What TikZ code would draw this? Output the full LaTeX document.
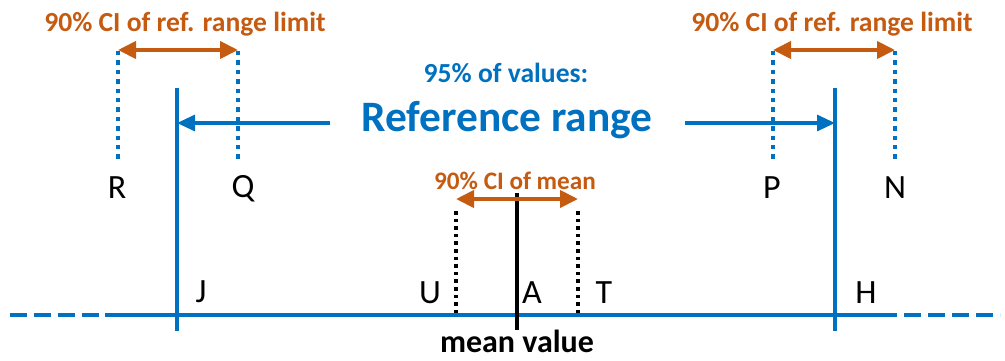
\documentclass[tikz,border=0pt]{standalone}
\usepackage{fontspec}
\setmainfont{Carlito}
\usetikzlibrary{arrows.meta}
\definecolor{refblue}{RGB}{0,112,192}
\definecolor{ciorange}{RGB}{197,90,17}
\tikzset{
  axisline/.style={refblue, line width=2pt},
  axisdash/.style={refblue, line width=2pt, dash pattern=on 8.5pt off 3.5pt},
  limitline/.style={refblue, line width=2pt},
  cidot/.style={refblue, line width=2.2pt, dash pattern=on 2.2pt off 2.5pt},
  meandot/.style={black, line width=1.8pt, dash pattern=on 1.8pt off 2pt},
  meanline/.style={black, line width=2pt},
  ciarrow/.style={ciorange, line width=2pt, {Triangle[length=9pt,width=8.5pt]}-{Triangle[length=9pt,width=8.5pt]}},
  refarrow/.style={refblue, line width=1.6pt, -{Triangle[length=9pt,width=8pt]}},
  cilabel/.style={text=ciorange, font=\bfseries\fontsize{13.8}{15}\selectfont, inner sep=0pt},
  meanci/.style={text=ciorange, font=\bfseries\fontsize{12.6}{14}\selectfont, inner sep=0pt},
  letter/.style={font=\fontsize{17}{19}\selectfont, inner sep=0pt},
}
\begin{document}
\begin{tikzpicture}[x=0.5pt,y=-0.5pt]
\useasboundingbox (0,0) rectangle (1005,360);
% axis
\coordinate (axL) at (10,315);
\coordinate (axLs) at (105,315);
\coordinate (axRs) at (880,315);
\coordinate (axR) at (1000,315);
\draw[axisdash] (axL) -- (axLs);
\draw[axisline] (axLs) -- (axRs);
\draw[axisdash] (axRs) -- (axR);
% reference limits
\coordinate (jtop) at (177,88);
\coordinate (jbot) at (177,331);
\coordinate (htop) at (835,88);
\coordinate (hbot) at (835,331);
\draw[limitline] (jtop) -- (jbot);
\draw[limitline] (htop) -- (hbot);
% CI dotted lines of limits
\coordinate (rtop) at (118,51); \coordinate (rbot) at (118,160);
\coordinate (qtop) at (238,51); \coordinate (qbot) at (238,160);
\coordinate (ptop) at (773,51); \coordinate (pbot) at (773,160);
\coordinate (ntop) at (895,51); \coordinate (nbot) at (895,160);
\draw[cidot] (rtop) -- (rbot);
\draw[cidot] (qtop) -- (qbot);
\draw[cidot] (ptop) -- (pbot);
\draw[cidot] (ntop) -- (nbot);
\coordinate (la1) at (118,50); \coordinate (la2) at (238,50);
\coordinate (ra1) at (773,50); \coordinate (ra2) at (895,50);
\draw[ciarrow] (la1) -- (la2);
\draw[ciarrow] (ra1) -- (ra2);
\node[cilabel] (cil) at (185,24) {90\% CI of ref. range limit};
\node[cilabel] (cir) at (832,24) {90\% CI of ref. range limit};
% reference range label and arrows
\node[text=refblue, font=\bfseries\fontsize{13.8}{15}\selectfont, inner sep=0pt] (pct) at (506,73) {95\% of values:};
\node[text=refblue, font=\bfseries\fontsize{21.7}{24}\selectfont, inner sep=0pt] (refr) at (507,120) {Reference range};
\coordinate (jarr) at (177,123);
\coordinate (harr) at (835,123);
\coordinate (refL) at (330,123);
\coordinate (refR) at (685,123);
\draw[refarrow] (refL) -- (jarr);
\draw[refarrow] (refR) -- (harr);
% letters
\node[letter] (R) at (117,188) {R};
\node[letter] (Q) at (243,189) {Q};
\node[letter] (P) at (772,188) {P};
\node[letter] (N) at (895,188) {N};
\node[letter] (J) at (201,292) {J};
\node[letter] (U) at (430,293) {U};
\node[letter] (A) at (532,293) {A};
\node[letter] (T) at (604,293) {T};
\node[letter] (H) at (866,293) {H};
% mean
\coordinate (mtop) at (517,193);
\coordinate (mbot) at (517,330);
\draw[meanline] (mtop) -- (mbot);
\coordinate (utop) at (456,211); \coordinate (ubot) at (456,313);
\coordinate (ttop) at (578,211); \coordinate (tbot) at (578,313);
\draw[meandot] (utop) -- (ubot);
\draw[meandot] (ttop) -- (tbot);
\coordinate (ma1) at (456,199); \coordinate (ma2) at (578,199);
\draw[ciarrow] (ma1) -- (ma2);
\node[meanci] (mci) at (515,181) {90\% CI of mean};
\node[font=\bfseries\fontsize{16}{18}\selectfont, inner sep=0pt] (mv) at (517,341) {mean value};
\end{tikzpicture}
\end{document}
